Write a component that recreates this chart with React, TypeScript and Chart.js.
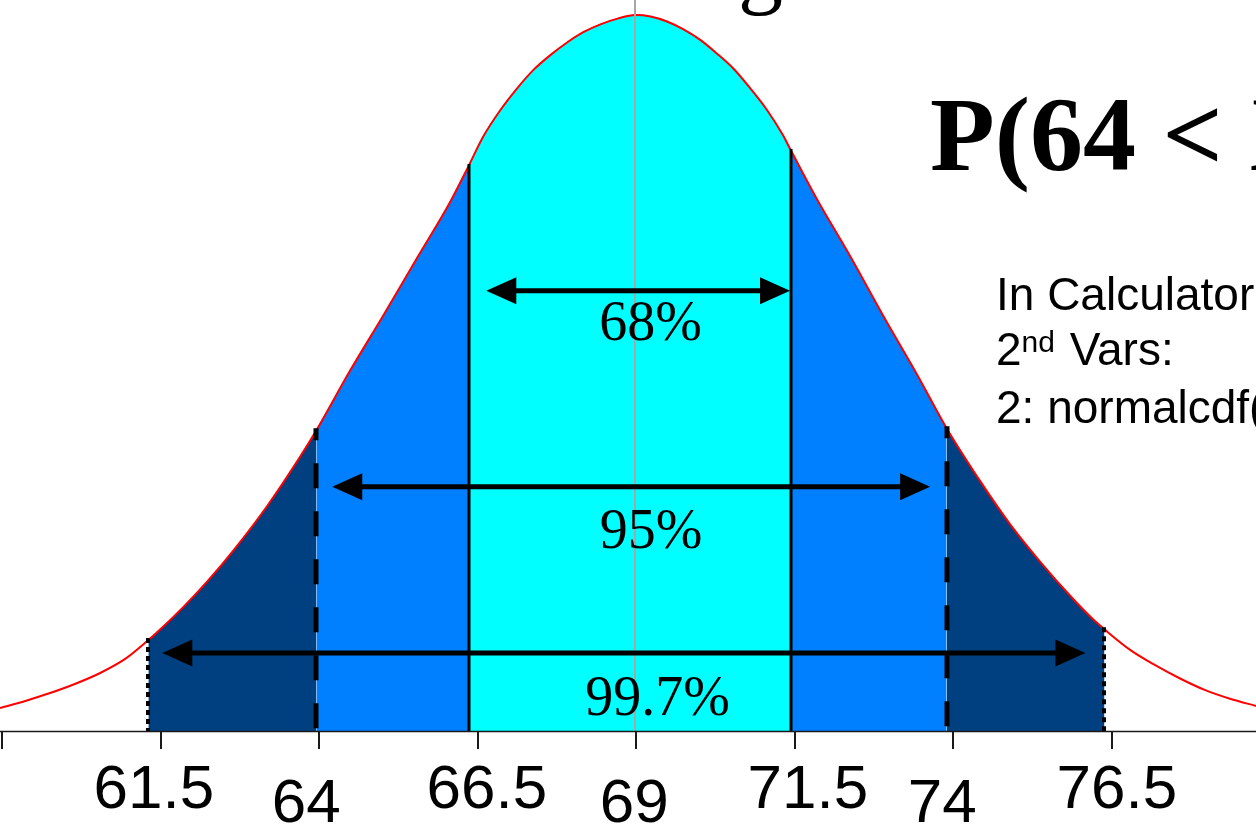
import { useEffect, useRef } from 'react';
import { Chart, registerables } from 'chart.js';

Chart.register(...registerables);

// Bell curve of heights (mean 69), height given as percent of the peak.
const curveX = [
  58.98, 59.38, 59.77, 60.17, 60.56, 60.96, 61.32,
  61.51, 61.87, 62.25, 62.66, 63.2, 63.72, 63.97,
  64.5, 65.03, 65.56, 66.08, 66.37,
  66.6, 66.87, 67.14, 67.39, 67.66, 67.93, 68.18, 68.45, 68.72, 69,
  69.24, 69.5, 69.76, 70.03, 70.29, 70.55, 70.81, 71.08, 71.33, 71.46,
  71.87, 72.39, 72.91, 73.45, 73.91,
  74.44, 74.91, 75.39, 75.91, 76.22, 76.4,
  76.81, 77.2, 77.6, 77.99, 78.38, 78.79,
];
const curveY = [
  3.2, 4.2, 5.3, 6.6, 8.1, 10.1, 12.7,
  14.2, 17.3, 20.9, 25.2, 31.5, 38.4, 42.0,
  50.3, 58.1, 66.1, 73.9, 78.9,
  83.0, 86.7, 89.8, 92.3, 94.4, 96.2, 97.6, 98.7, 99.5, 100,
  99.8, 99.1, 98.0, 96.5, 94.6, 92.5, 89.8, 86.7, 83.2, 81.0,
  74.2, 66.3, 58.0, 49.7, 42.3,
  34.9, 28.9, 23.6, 18.4, 15.6, 14.2,
  11.3, 9.2, 7.3, 5.7, 4.5, 3.5,
];

// Edges of the shaded bands (3, 2 and 1 standard deviations each side)
const bandEdges = [61.32, 63.97, 66.37, 71.46, 73.91, 76.4];
const bandColors = ['#004080', '#0080ff', '#00ffff', '#0080ff', '#004080'];
const edgeStyles = ['dotted', 'dashed', 'solid', 'solid', 'dashed', 'dotted'];

// Interval arrows
const arrowLabels = ['68%', '95%', '99.7%'];
const arrowFrom = [66.65, 64.22, 61.54];
const arrowTo = [71.44, 73.65, 76.1];
const arrowLevel = [61.5, 34.1, 10.9];
const arrowLabelX = [69.24, 69.25, 69.35];
const arrowLabelLevel = [54.6, 25.6, 2.2];

// Axis ticks
const tickValues = [59, 61.5, 64, 66.5, 69, 71.5, 74, 76.5];
const tickLabels = ['', '61.5', '64', '66.5', '69', '71.5', '74', '76.5'];

const MEAN = 69;

const points = curveX.map((x, i) => ({ x, y: curveY[i] }));

const bandDatasets = bandColors.map((color, i) => {
  const a = bandEdges[i];
  const b = bandEdges[i + 1];
  return {
    data: points.filter((p) => p.x >= a && p.x <= b),
    backgroundColor: color,
    borderColor: '#4f8fdc',
    borderWidth: 1,
    pointRadius: 0,
    fill: 'origin',
    cubicInterpolationMode: 'monotone',
  };
});

const heightAt = (x: number) => curveY[curveX.indexOf(x)];

// hand-set label nudges (px) and baseline drops for the staggered tick labels
const labelNudge = [0, -6, -12, 10, -1, 14, -10, 6];

const annotations = {
  id: 'bellAnnotations',
  afterDatasetsDraw(chart: any) {
    const { ctx, chartArea } = chart;
    const xs = chart.scales.x;
    const ys = chart.scales.y;
    const px = (v: number) => xs.getPixelForValue(v);
    const py = (v: number) => ys.getPixelForValue(v);
    const base = py(0);
    ctx.save();

    // mean line
    ctx.strokeStyle = '#a6a6a6';
    ctx.lineWidth = 2;
    ctx.beginPath();
    ctx.moveTo(Math.round(px(MEAN)), 0);
    ctx.lineTo(Math.round(px(MEAN)), base);
    ctx.stroke();

    // band edges
    bandEdges.forEach((e, i) => {
      const x = Math.round(px(e));
      const top = py(heightAt(e));
      const style = edgeStyles[i];
      ctx.strokeStyle = '#000';
      if (style === 'dotted') {
        ctx.lineWidth = 4;
        ctx.setLineDash([5, 4]);
      } else if (style === 'dashed') {
        ctx.lineWidth = 5;
        ctx.setLineDash([25, 23]);
        ctx.lineDashOffset = 13;
      } else {
        ctx.lineWidth = 3;
        ctx.setLineDash([]);
      }
      ctx.beginPath();
      ctx.moveTo(x, top - 2);
      ctx.lineTo(x, base);
      ctx.stroke();
      ctx.setLineDash([]);
      ctx.lineDashOffset = 0;
    });

    // arrows
    const head = 30;
    const half = 13.5;
    ctx.fillStyle = '#000';
    ctx.strokeStyle = '#000';
    arrowLabels.forEach((_, i) => {
      const x1 = px(arrowFrom[i]);
      const x2 = px(arrowTo[i]);
      const y = py(arrowLevel[i]);
      ctx.lineWidth = 5;
      ctx.beginPath();
      ctx.moveTo(x1 + head - 2, y);
      ctx.lineTo(x2 - head + 2, y);
      ctx.stroke();
      ctx.beginPath();
      ctx.moveTo(x1, y);
      ctx.lineTo(x1 + head, y - half);
      ctx.lineTo(x1 + head, y + half);
      ctx.closePath();
      ctx.fill();
      ctx.beginPath();
      ctx.moveTo(x2, y);
      ctx.lineTo(x2 - head, y - half);
      ctx.lineTo(x2 - head, y + half);
      ctx.closePath();
      ctx.fill();
    });

    // percentage labels
    ctx.font = '56px "Liberation Serif"';
    ctx.textAlign = 'center';
    ctx.textBaseline = 'alphabetic';
    arrowLabels.forEach((t, i) => {
      ctx.fillText(t, px(arrowLabelX[i]), py(arrowLabelLevel[i]));
    });

    // x axis
    ctx.strokeStyle = '#1a1a1a';
    ctx.lineWidth = 1.5;
    ctx.beginPath();
    ctx.moveTo(chartArea.left, base + 0.5);
    ctx.lineTo(chartArea.right, base + 0.5);
    ctx.stroke();
    ctx.lineWidth = 2;
    tickValues.forEach((v) => {
      const x = Math.round(px(v)) + 1;
      ctx.beginPath();
      ctx.moveTo(x, base);
      ctx.lineTo(x, base + 18);
      ctx.stroke();
    });
    ctx.font = '62px "Liberation Sans"';
    ctx.fillStyle = '#000';
    tickValues.forEach((v, i) => {
      const drop = Number.isInteger(v) ? 91 : 77;
      ctx.fillText(tickLabels[i], px(v) + labelNudge[i], base + drop);
    });

    // probability heading
    ctx.textAlign = 'left';
    ctx.font = 'bold 106px "Liberation Serif"';
    ctx.fillText('P(64 < X < 74)', 930, 170);

    // title descender peeking in at the top
    ctx.font = '90px "Liberation Serif"';
    ctx.fillText('g', 738, -3);

    // calculator hint
    const left = 996;
    ctx.font = '46px "Liberation Sans"';
    ctx.fillText('In Calculator:', left, 310);
    ctx.fillText('2', left, 365);
    const w2 = ctx.measureText('2').width;
    ctx.font = '30px "Liberation Sans"';
    ctx.fillText('nd', left + w2, 352);
    const wnd = ctx.measureText('nd').width;
    ctx.font = '46px "Liberation Sans"';
    ctx.fillText(' Vars:', left + w2 + wnd + 2, 365);
    ctx.fillText('2: normalcdf(', left, 423);

    ctx.restore();
  },
};

export default function App() {
  const canvasRef = useRef<HTMLCanvasElement>(null);

  useEffect(() => {
    document.body.style.margin = '0';
    const canvas = canvasRef.current;
    if (!canvas) return;
    const chart = new Chart(canvas, {
      type: 'line',
      data: {
        datasets: [
          {
            data: points,
            borderColor: '#ff0000',
            borderWidth: 2,
            pointRadius: 0,
            fill: false,
            cubicInterpolationMode: 'monotone',
          },
          ...bandDatasets,
        ] as any,
      },
      options: {
        responsive: false,
        animation: false,
        devicePixelRatio: 1,
        layout: { padding: { top: 0, bottom: 96, left: 0, right: 0 } },
        plugins: {
          legend: { display: false },
          tooltip: { enabled: false },
          title: { display: false },
        },
        events: [],
        scales: {
          x: { type: 'linear', min: 58.98, max: 78.79, display: false },
          y: { min: 0, max: 102.1, display: false },
        },
      },
      plugins: [annotations],
    });
    return () => chart.destroy();
  }, []);

  return (
    <div style={{ width: 1256, height: 827, background: '#ffffff' }}>
      <canvas ref={canvasRef} width={1256} height={827} style={{ display: 'block' }} />
    </div>
  );
}
